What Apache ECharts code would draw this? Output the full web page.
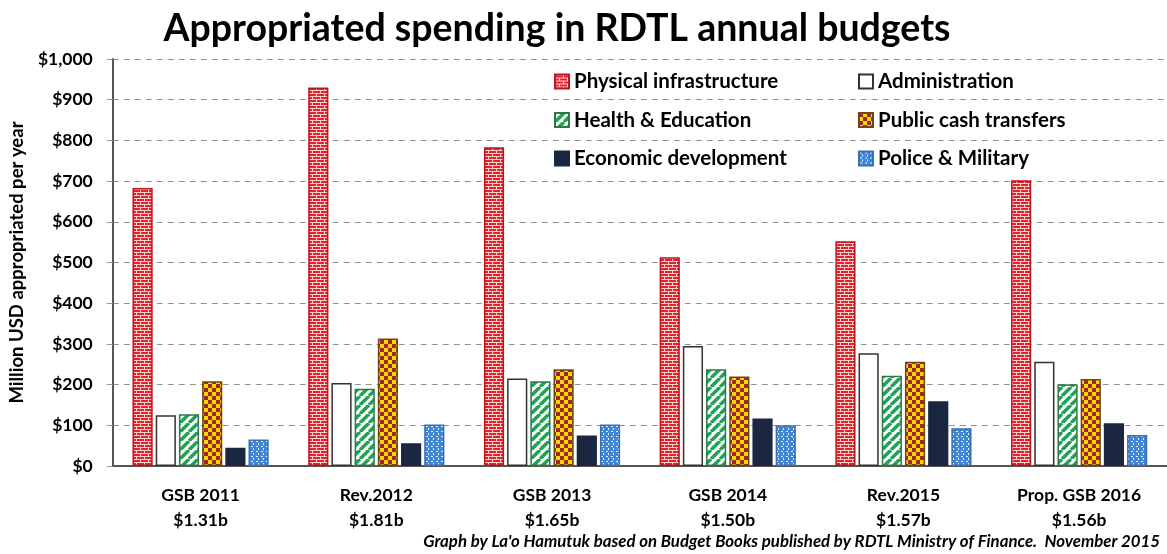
<!DOCTYPE html>
<html><head><meta charset="utf-8">
<script src="https://cdn.jsdelivr.net/npm/echarts@6/dist/echarts.min.js"></script>
<style>html,body{margin:0;padding:0;background:#fff}#c{width:1167px;height:554px}</style>
</head><body><div id="c"></div>
<script>
const categories = ["GSB 2011\n$1.31b","Rev.2012\n$1.81b","GSB 2013\n$1.65b","GSB 2014\n$1.50b","Rev.2015\n$1.57b","Prop. GSB 2016\n$1.56b"];
const seriesNames = ["Physical infrastructure","Administration","Health & Education","Public cash transfers","Economic development","Police & Military"];
const physical = [683, 930, 783, 513, 552, 702];
const administration = [125, 204, 215, 295, 277, 256];
const health = [127, 190, 208, 238, 222, 201];
const cash = [208, 313, 238, 220, 256, 214];
const economic = [45, 56, 75, 117, 159, 105];
const police = [65, 102, 102, 100, 93, 76];
const yTicks = [0,100,200,300,400,500,600,700,800,900,1000];

function mk(w,h,draw){const c=document.createElement('canvas');c.width=w;c.height=h;const g=c.getContext('2d');draw(g);return {image:c,repeat:'repeat'};}
const brick = mk(8,6,g=>{g.fillStyle='#e3232b';g.fillRect(0,0,8,6);g.fillStyle='#f8d0d0';g.fillRect(0,0,8,1);g.fillRect(0,3,8,1);g.fillRect(0,0,1,3);g.fillRect(4,3,1,3);});
const stripes = mk(9,9,g=>{g.fillStyle='#ffffff';g.fillRect(0,0,9,9);g.strokeStyle='#1fa355';g.lineWidth=3.5;g.beginPath();for(let k=-9;k<=18;k+=9){g.moveTo(k,9);g.lineTo(k+9,0);}g.stroke();});
const checker = mk(8,8,g=>{g.fillStyle='#ffd800';g.fillRect(0,0,8,8);g.fillStyle='#a0262a';g.fillRect(0,0,4,4);g.fillRect(4,4,4,4);});
const dots = mk(5,5,g=>{g.fillStyle='#3f86d6';g.fillRect(0,0,5,5);g.fillStyle='#e6f1ff';g.fillRect(1,1,2,1);g.fillRect(3,3,1,2);});
const fills = [brick,'#ffffff',stripes,checker,'#1b2640',dots];
const borders = ['#c0141c','#333333','#2a7a45','#6a4a10','#1b2640','#3a6fb0'];
const dataArr = [physical,administration,health,cash,economic,police];

const chart = echarts.init(document.getElementById('c'),null,{renderer:'canvas'});
const FF = 'Lato, "Open Sans", sans-serif';
const legendText = {fontFamily:FF,fontWeight:'bold',fontSize:20.5,color:'#000'};
chart.setOption({
  animation:false,
  title:{text:'Appropriated spending in RDTL annual budgets',left:552,top:5,textAlign:'center',textStyle:{fontFamily:FF,fontWeight:'bold',fontSize:37.5,color:'#000'}},
  legend:[
    {orient:'vertical',left:549,top:66,itemGap:17.5,itemWidth:14,itemHeight:14,icon:'rect',data:[seriesNames[0],seriesNames[2],seriesNames[4]],textStyle:legendText},
    {orient:'vertical',left:853,top:66,itemGap:17.5,itemWidth:14,itemHeight:14,icon:'rect',data:[seriesNames[1],seriesNames[3],seriesNames[5]],textStyle:legendText}
  ],
  graphic:[{type:'text',right:7,top:533,style:{text:"Graph by La'o Hamutuk based on Budget Books published by RDTL Ministry of Finance.  November 2015",font:'italic bold 16.8px '+FF,fill:'#000'}}],
  grid:{left:112,right:-6,top:59,bottom:88},
  xAxis:{type:'category',data:categories,axisTick:{show:false},axisLine:{lineStyle:{color:'#555',width:2}},
    axisLabel:{interval:0,fontFamily:FF,fontWeight:'bold',fontSize:17.5,color:'#000',lineHeight:25,margin:17}},
  yAxis:{type:'value',min:0,max:1000,interval:100,
    name:'Million USD appropriated per year',nameLocation:'middle',nameGap:83,nameRotate:90,
    nameTextStyle:{fontFamily:FF,fontWeight:'bold',fontSize:18.5,color:'#000'},
    axisLine:{show:true,lineStyle:{color:'#555',width:2}},axisTick:{show:true,length:6,inside:false,lineStyle:{color:'#999'}},
    axisLabel:{fontFamily:FF,fontWeight:'bold',fontSize:17.5,color:'#000',margin:20,formatter:v=>'$'+v.toLocaleString('en-US')},
    splitLine:{lineStyle:{type:[6,5],color:'#8c939c',width:1}}},
  series: seriesNames.map((n,i)=>({name:n,type:'bar',data:dataArr[i],barGap:'15%',barCategoryGap:'22.5%',
    itemStyle:{color:fills[i],borderColor:borders[i],borderWidth:1.5}}))
});
</script></body></html>
